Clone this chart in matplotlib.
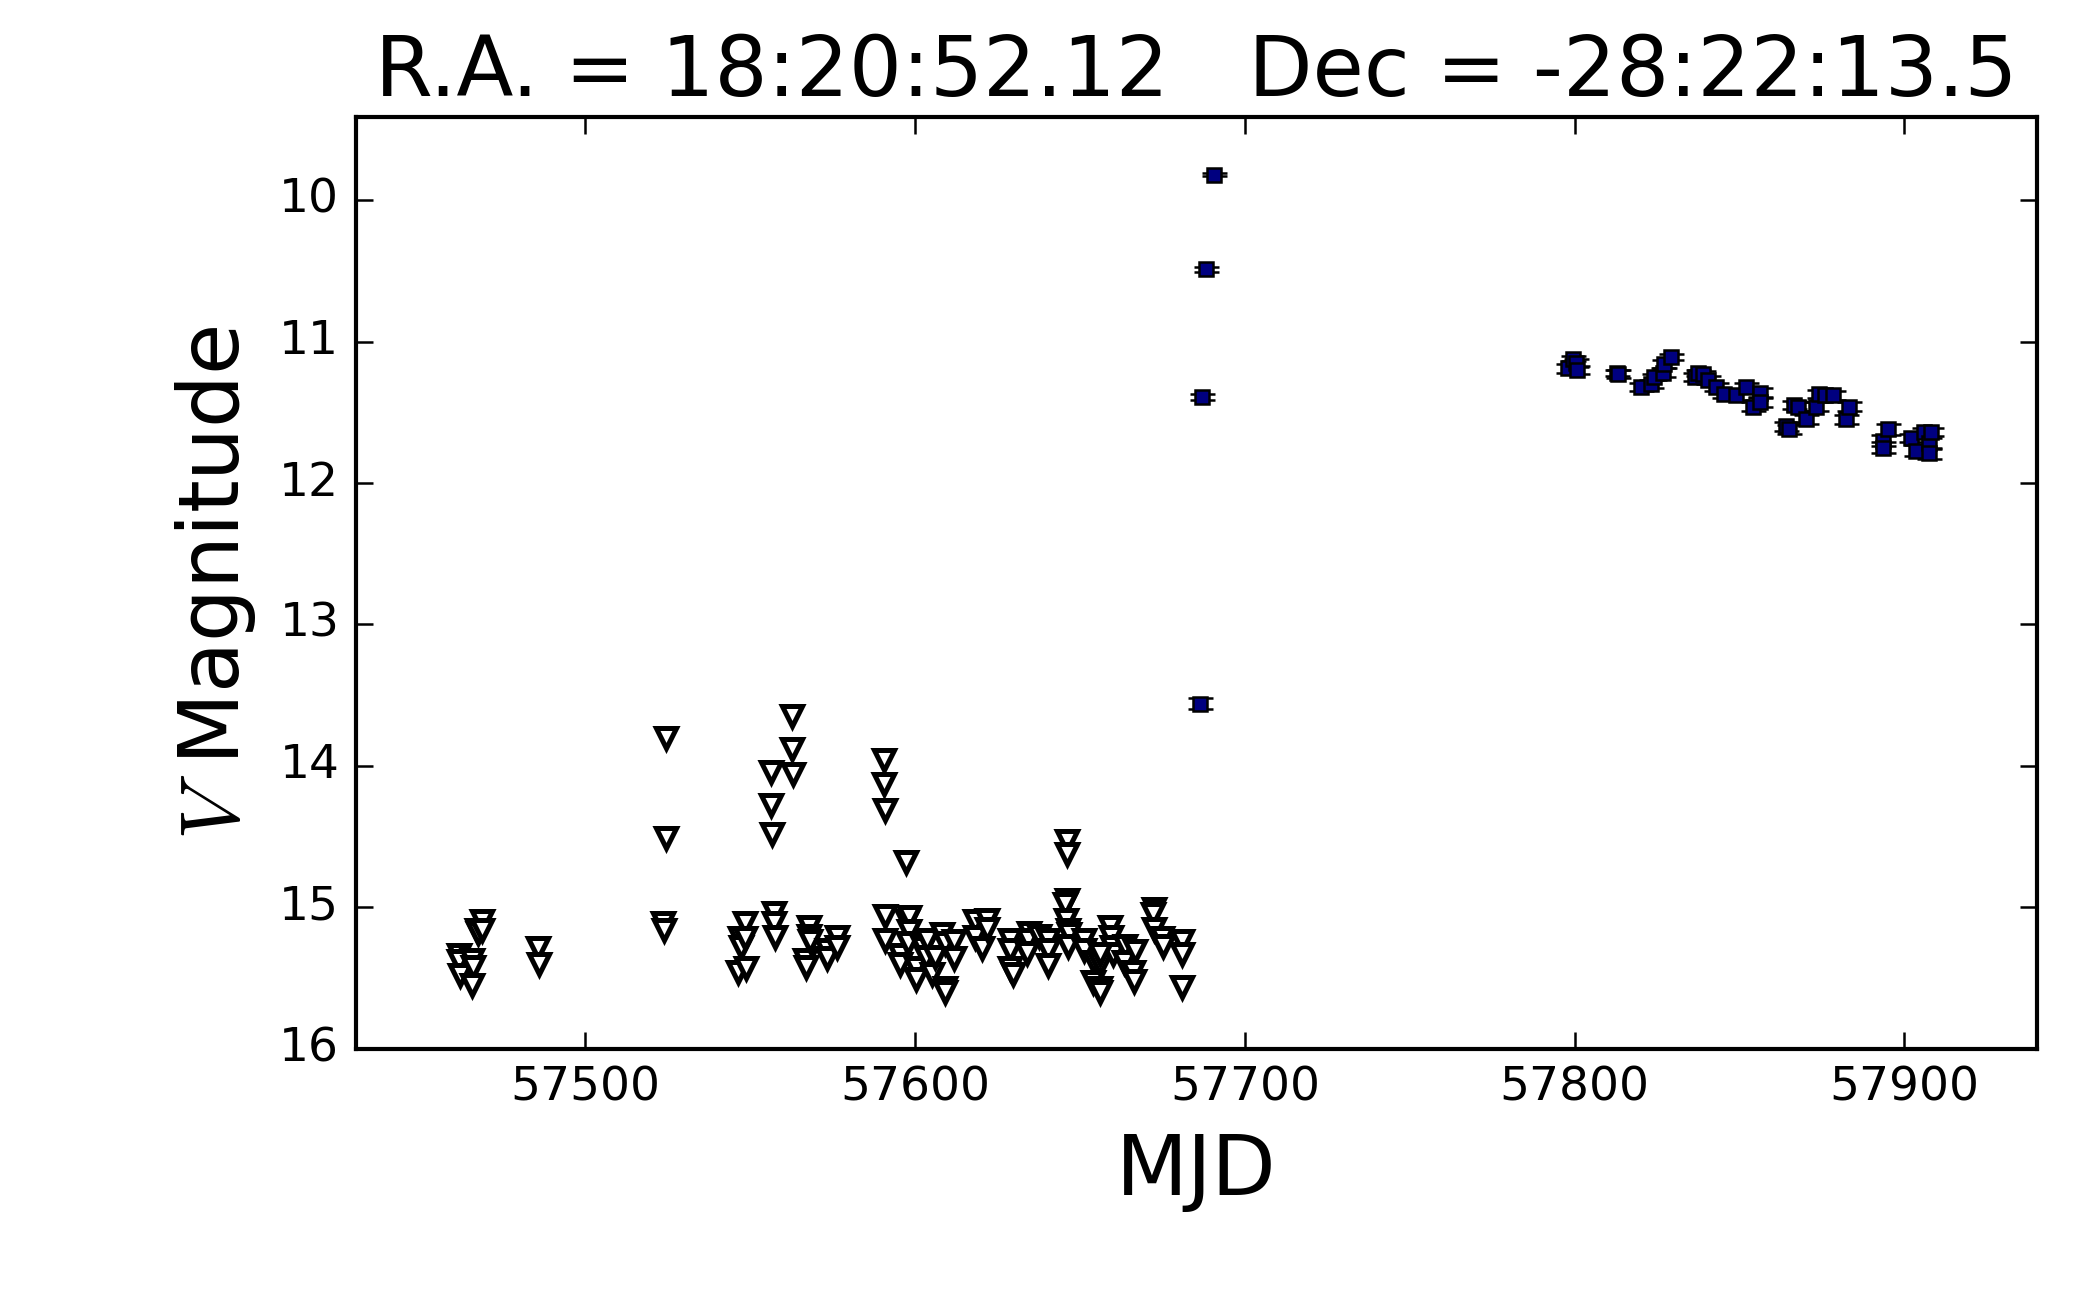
import matplotlib
matplotlib.use("Agg")
import matplotlib.pyplot as plt
import numpy as np

# ---- upper limits (open down-triangles) ----
ul_mjd = [57461.7, 57461.7, 57461.9, 57465.7, 57465.9, 57465.7, 57467.0, 57467.4, 57468.6, 57468.6,
          57485.7, 57485.9, 57523.5, 57523.7, 57524.5, 57524.5,
          57546.3, 57547.0, 57547.2, 57548.4, 57548.4, 57548.6,
          57556.3, 57556.3, 57556.5, 57557.3, 57557.3, 57557.5,
          57562.7, 57562.7, 57562.9, 57566.7, 57566.9, 57567.7, 57567.7, 57568.0,
          57573.3, 57573.3, 57576.3, 57576.3,
          57590.5, 57590.5, 57590.7, 57590.9, 57590.9, 57595.5, 57595.5, 57597.3,
          57597.6, 57598.0, 57598.0, 57597.8, 57600.1, 57600.1, 57602.5, 57603.6, 57603.4,
          57605.1, 57606.0, 57608.1, 57609.1, 57609.1, 57609.1, 57611.7, 57611.7,
          57618.2, 57618.2, 57620.3, 57621.8, 57621.8,
          57628.7, 57628.9, 57628.7, 57629.6, 57634.4, 57634.1, 57633.9, 57637.4,
          57640.4, 57640.4, 57640.2,
          57646.0, 57646.0, 57646.0, 57645.5, 57645.7, 57646.4, 57646.6, 57646.2,
          57651.1, 57651.3, 57654.1, 57653.9, 57656.1, 57656.1, 57656.0,
          57659.2, 57659.4, 57659.8, 57660.0, 57656.0, 57663.7, 57663.2,
          57666.7, 57666.2, 57666.5, 57672.3, 57672.1, 57672.3, 57674.8, 57675.0,
          57680.8, 57680.8, 57680.8]
ul_mag = [15.34, 15.38, 15.48, 15.37, 15.42, 15.55, 15.16, 15.18, 15.10, 15.16,
          15.29, 15.40, 15.11, 15.16, 13.80, 14.51,
          15.46, 15.22, 15.28, 15.11, 15.22, 15.43,
          14.04, 14.28, 14.48, 15.04, 15.11, 15.21,
          13.65, 13.88, 14.06, 15.37, 15.42, 15.14, 15.20, 15.24,
          15.30, 15.36, 15.21, 15.28,
          13.96, 14.13, 14.31, 15.06, 15.23, 15.34, 15.40, 14.68,
          15.10, 15.07, 15.17, 15.25, 15.43, 15.51, 15.29, 15.23, 15.35,
          15.47, 15.35, 15.19, 15.25, 15.57, 15.60, 15.24, 15.36,
          15.10, 15.21, 15.29, 15.09, 15.15,
          15.23, 15.30, 15.43, 15.47, 15.18, 15.23, 15.32, 15.20,
          15.23, 15.30, 15.41,
          14.53, 14.62, 14.95, 14.98, 15.09, 15.16, 15.19, 15.27,
          15.23, 15.30, 15.39, 15.53, 15.40, 15.57, 15.60,
          15.14, 15.21, 15.28, 15.33, 15.33, 15.27, 15.39,
          15.31, 15.46, 15.52, 15.01, 15.05, 15.15, 15.22, 15.27,
          15.24, 15.33, 15.56]

# ---- detections (filled squares with error bars) ----
det_mjd = [57686.3, 57687.1, 57688.3, 57690.7,
           57798.0, 57799.5, 57800.5, 57800.8, 57812.9, 57813.1, 57820.2, 57823.2, 57824.0,
           57826.8, 57827.0, 57829.3, 57836.4, 57837.5, 57839.0, 57840.4, 57842.9, 57845.4,
           57849.0, 57852.0, 57854.0, 57856.1, 57856.1, 57864.1, 57865.1, 57866.6, 57867.6,
           57870.2, 57873.2, 57874.2, 57876.0, 57878.3, 57882.3, 57883.3, 57893.4, 57893.6,
           57894.9, 57902.0, 57903.5, 57906.0, 57907.5, 57907.5, 57908.0]
det_mag = [13.56, 11.39, 10.49, 9.82,
           11.19, 11.12, 11.15, 11.20, 11.22, 11.23, 11.32, 11.30, 11.25,
           11.22, 11.16, 11.11, 11.25, 11.22, 11.23, 11.27, 11.32, 11.37,
           11.38, 11.32, 11.46, 11.36, 11.43, 11.60, 11.62, 11.45, 11.46,
           11.55, 11.46, 11.37, 11.38, 11.38, 11.55, 11.46, 11.70, 11.75,
           11.62, 11.68, 11.77, 11.64, 11.72, 11.79, 11.64]
det_err = [0.04, 0.02, 0.02, 0.01,
           0.03, 0.02, 0.03, 0.03, 0.02, 0.03, 0.03, 0.03, 0.02,
           0.03, 0.03, 0.02, 0.03, 0.02, 0.02, 0.03, 0.03, 0.03,
           0.03, 0.03, 0.03, 0.03, 0.03, 0.03, 0.03, 0.03, 0.03,
           0.03, 0.03, 0.03, 0.03, 0.03, 0.03, 0.03, 0.04, 0.04,
           0.04, 0.03, 0.04, 0.03, 0.04, 0.04, 0.03]

title_text = "R.A. = 18:20:52.12   Dec = -28:22:13.5"
x_ticks = [57500, 57600, 57700, 57800, 57900]
y_ticks = [10, 11, 12, 13, 14, 15, 16]

plt.style.use("classic")
plt.rcParams["font.family"] = ["DejaVu Sans"]

fig = plt.figure(figsize=(7, 1297 / 300), dpi=300, facecolor="white")
ax = fig.add_axes([0.1695, 0.1914, 0.8005, 0.7186])

ax.plot(ul_mjd, ul_mag, linestyle="none", marker="v", markersize=4.6,
        markerfacecolor="white", markeredgecolor="black", markeredgewidth=1.2)
ax.errorbar(det_mjd, det_mag, yerr=det_err, fmt="s", color="navy",
            markersize=3.5, markeredgecolor="black", markeredgewidth=0.6,
            ecolor="black", elinewidth=0.8, capsize=3, capthick=0.8)

ax.set_xlim(57430.4, 57940.2)
ax.set_ylim(16, 9.41)
ax.set_xticks(x_ticks)
ax.set_yticks(y_ticks)
ax.ticklabel_format(useOffset=False, style="plain")
ax.tick_params(labelsize=11.3, direction="in", top=True, right=True, length=4, width=0.6)
for s in ax.spines.values():
    s.set_linewidth(1.0)

ax.set_xlabel("MJD", fontsize=20)
ax.set_ylabel("$V$ Magnitude", fontsize=20)
ax.set_title(title_text, fontsize=20)

fig.savefig("out.png", dpi=300, facecolor="white")
